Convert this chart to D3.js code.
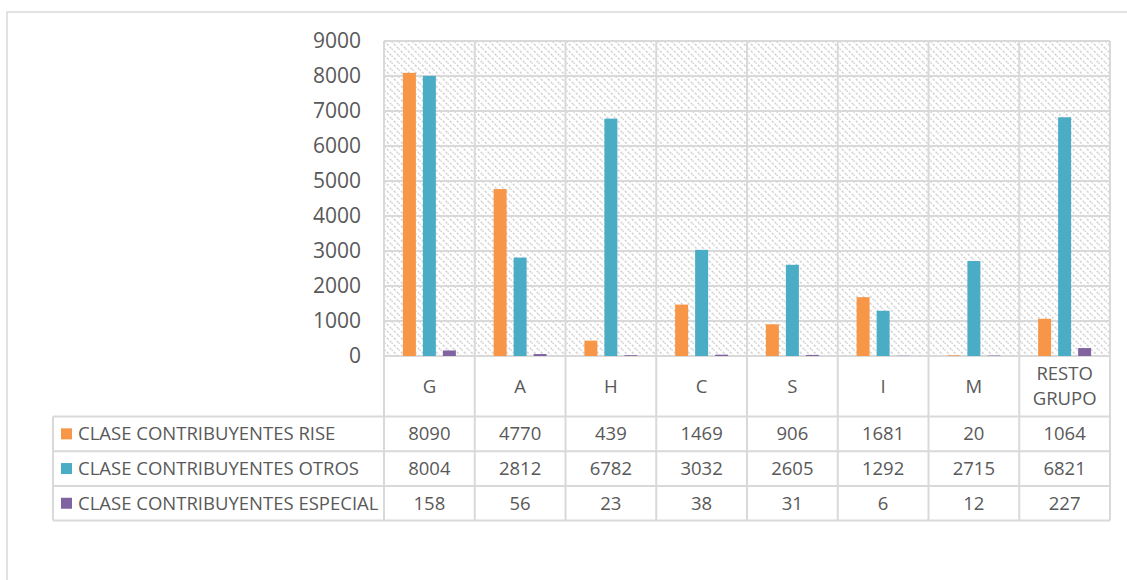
<!DOCTYPE html>
<html>
<head>
<meta charset="utf-8">
<script src="https://cdn.jsdelivr.net/npm/d3@7"></script>
<style>
  html, body { margin: 0; padding: 0; background: #fff; }
  svg text { font-family: "Open Sans", "Noto Sans", sans-serif; fill: #595959; }
</style>
</head>
<body>
<svg id="chart" width="1127" height="580"></svg>
<script>
// Categories along the x axis
const categories = ["G", "A", "H", "C", "S", "I", "M", "RESTO GRUPO"];
// Series names (legend / data table rows)
const seriesNames = [
  "CLASE CONTRIBUYENTES RISE",
  "CLASE CONTRIBUYENTES OTROS",
  "CLASE CONTRIBUYENTES ESPECIAL"
];
// Series values
const rise     = [8090, 4770, 439, 1469, 906, 1681, 20, 1064];
const otros    = [8004, 2812, 6782, 3032, 2605, 1292, 2715, 6821];
const especial = [158, 56, 23, 38, 31, 6, 12, 227];
// Value axis ticks
const yTicks = [0, 1000, 2000, 3000, 4000, 5000, 6000, 7000, 8000, 9000];

const seriesColors = ["#F79646", "#4BACC6", "#8064A2"];
const seriesValues = [rise, otros, especial];

const svg = d3.select("#chart");
const gridColor = "#d9d9d9";

// Layout
const plot = { left: 384, right: 1110, top: 41, bottom: 356 };
const tableLeft = 53;
const headerBottom = 416.5;
const rowH = 34.7;
const tableFont = "18.5px";

// Outer frame (top and left edges)
svg.append("path")
  .attr("d", "M7,580 L7,12 L1127,12")
  .attr("fill", "none")
  .attr("stroke", gridColor)
  .attr("stroke-width", 1.5);

// Hatched plot background
const defs = svg.append("defs");
const pat = defs.append("pattern")
  .attr("id", "hatch")
  .attr("patternUnits", "userSpaceOnUse")
  .attr("width", 7).attr("height", 7);
pat.append("path")
  .attr("d", "M-1,-1 L8,8 M-1,6 L1,8 M6,-1 L8,1")
  .attr("stroke", "#d4d4d4")
  .attr("stroke-width", 1.5)
  .attr("stroke-dasharray", "2.5,1.5");

const x = d3.scaleBand().domain(categories).range([plot.left, plot.right]);
const y = d3.scaleLinear().domain([0, 9000]).range([plot.bottom, plot.top]);
const xs = d3.scaleBand().domain(d3.range(seriesNames.length))
  .range([0, x.bandwidth()]).paddingInner(0.35).paddingOuter(0.944);

svg.append("rect")
  .attr("x", plot.left).attr("y", plot.top)
  .attr("width", plot.right - plot.left).attr("height", plot.bottom - plot.top)
  .attr("fill", "url(#hatch)");

// Horizontal gridlines
svg.append("g").selectAll("line").data(yTicks).join("line")
  .attr("x1", plot.left).attr("x2", plot.right)
  .attr("y1", d => y(d)).attr("y2", d => y(d))
  .attr("stroke", gridColor).attr("stroke-width", 2);

// Bars
const groups = svg.append("g").selectAll("g").data(categories).join("g")
  .attr("transform", d => `translate(${x(d)},0)`);
groups.selectAll("rect")
  .data((c, i) => seriesValues.map((vals, s) => ({ s, v: vals[i] })))
  .join("rect")
  .attr("x", d => xs(d.s))
  .attr("width", xs.bandwidth())
  .attr("y", d => y(d.v))
  .attr("height", d => y(0) - y(d.v))
  .attr("fill", d => seriesColors[d.s]);

// Value axis labels
const yAxis = d3.axisLeft(y).tickValues(yTicks).tickFormat(d3.format("d"))
  .tickSize(0).tickPadding(23);
const gy = svg.append("g").attr("transform", `translate(${plot.left},0)`).call(yAxis);
gy.select(".domain").remove();
gy.selectAll("text")
  .style("font-size", "21px")
  .style("font-family", "'Open Sans', sans-serif")
  .attr("fill", "#595959");

// Data table grid
const tableBottom = headerBottom + rowH * seriesNames.length;
const vLines = categories.map(c => x(c)).concat([plot.right]);
svg.append("g").selectAll("line").data(vLines).join("line")
  .attr("x1", d => d).attr("x2", d => d)
  .attr("y1", plot.top).attr("y2", tableBottom)
  .attr("stroke", gridColor).attr("stroke-width", 2);
svg.append("line")
  .attr("x1", tableLeft).attr("x2", tableLeft)
  .attr("y1", headerBottom).attr("y2", tableBottom)
  .attr("stroke", gridColor).attr("stroke-width", 2);
const hLines = d3.range(seriesNames.length + 1).map(i => headerBottom + i * rowH);
svg.append("g").selectAll("line").data(hLines).join("line")
  .attr("x1", tableLeft).attr("x2", plot.right)
  .attr("y1", d => d).attr("y2", d => d)
  .attr("stroke", gridColor).attr("stroke-width", 2);

// Category labels
const catText = svg.append("g").selectAll("text").data(categories).join("text")
  .attr("text-anchor", "middle")
  .style("font-size", tableFont);
catText.each(function (d) {
  const words = d.split(" ");
  const cx = x(d) + x.bandwidth() / 2;
  const mid = (plot.bottom + headerBottom) / 2;
  const t = d3.select(this);
  const lh = 25;
  words.forEach((w, i) => {
    t.append("tspan")
      .attr("x", cx)
      .attr("y", mid + (i - (words.length - 1) / 2) * lh + 6.5)
      .text(w);
  });
});

// Table rows: legend key, series name and values
seriesNames.forEach((name, s) => {
  const cy = headerBottom + s * rowH + rowH / 2;
  svg.append("rect")
    .attr("x", 61).attr("y", cy - 5.5)
    .attr("width", 11).attr("height", 11)
    .attr("fill", seriesColors[s]);
  svg.append("text")
    .attr("x", 78).attr("y", cy + 6.5)
    .style("font-size", tableFont)
    .text(name);
  svg.append("g").selectAll("text").data(seriesValues[s]).join("text")
    .attr("x", (d, i) => x(categories[i]) + x.bandwidth() / 2)
    .attr("y", cy + 6.5)
    .attr("text-anchor", "middle")
    .style("font-size", tableFont)
    .text(d => d);
});
</script>
</body>
</html>
